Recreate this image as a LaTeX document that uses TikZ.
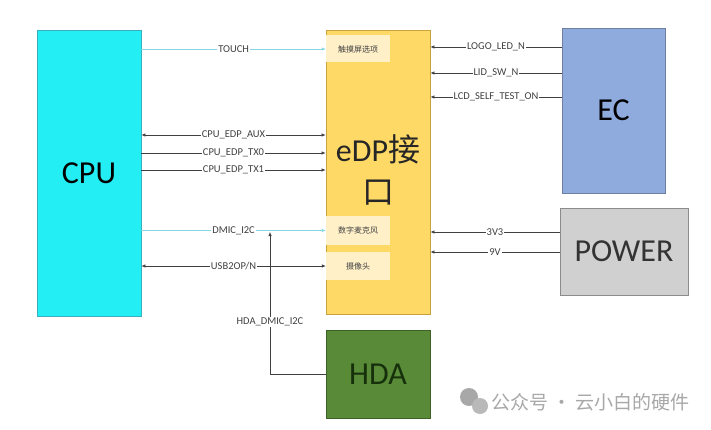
\documentclass[tikz,border=0pt]{standalone}
\usepackage{fontspec}
\setmainfont{Carlito}
\newfontfamily\cjk{Noto Sans CJK SC}
\usetikzlibrary{arrows.meta}
\definecolor{cpufill}{HTML}{22EEF3}
\definecolor{cpuline}{HTML}{3AAFC0}
\definecolor{edpfill}{HTML}{FFD966}
\definecolor{edpline}{HTML}{C8A23C}
\definecolor{subfill}{HTML}{FFF0C8}
\definecolor{ecfill}{HTML}{8FAADC}
\definecolor{ecline}{HTML}{6F7F9F}
\definecolor{pwfill}{HTML}{D0D0D0}
\definecolor{pwline}{HTML}{8C8C8C}
\definecolor{hdafill}{HTML}{588A38}
\definecolor{hdaline}{HTML}{3E6226}
\definecolor{hdatext}{HTML}{16300C}
\definecolor{sigline}{HTML}{404040}
\definecolor{cyanline}{HTML}{86D6E6}
\definecolor{labtext}{HTML}{404040}
\definecolor{wmgray}{HTML}{A8A8A8}
\tikzset{
  block/.style={draw, line width=0.8pt, minimum width=#1, inner sep=0pt},
  big/.style={font=\fontsize{32}{42}\selectfont},
  subbox/.style={fill=subfill, minimum width=64pt, inner sep=0pt, font=\cjk\fontsize{8}{9}\selectfont, text=labtext},
  sig/.style={draw=sigline, line width=0.6pt},
  cysig/.style={draw=cyanline, line width=0.8pt},
  tipr/.style={-{Latex[length=4pt,width=3.4pt]}},
  tipb/.style={{Latex[length=4pt,width=3.4pt]}-{Latex[length=4pt,width=3.4pt]}},
  tipl/.style={{Latex[length=4pt,width=3.4pt]}-},
  lab/.style={fill=white, inner sep=1pt, font=\fontsize{10.5}{12}\selectfont, text=labtext},
}
\begin{document}
\begin{tikzpicture}[x=1pt,y=-1pt]
\useasboundingbox (0,0) rectangle (711,430);
\fill[white] (0,0) rectangle (711,430);

% blocks
\node[block=104pt, minimum height=286pt, fill=cpufill, draw=cpuline, big] (cpu) at (89,173) {CPU};
\node[block=104pt, minimum height=284pt, fill=edpfill, draw=edpline] (edp) at (378,172) {};
\node[big, align=center, text=black!85] (edptxt) at (378,170) {eDP{\cjk 接}\\{\cjk 口}};
\node[block=103pt, minimum height=165pt, fill=ecfill, draw=ecline, big] (ec) at (613.5,110.5) {EC};
\node[block=128pt, minimum height=87pt, fill=pwfill, draw=pwline, big, text=black!80] (pw) at (624,251.5) {POWER};
\node[block=104pt, minimum height=88pt, fill=hdafill, draw=hdaline, big, text=hdatext] (hda) at (378,374) {HDA};

% sub boxes
\node[subbox, minimum height=27pt] (touch) at (358,49) {触摸屏选项};
\node[subbox, minimum height=29pt] (dmic) at (358,230.5) {数字麦克风};
\node[subbox, minimum height=28pt] (cam) at (358,266) {摄像头};

% CPU -> eDP signals
\draw[cysig, tipr] (cpu.east |- touch.west) -- node[lab]{TOUCH} (touch.west);
\coordinate (aux) at (edp.west |- 0,135);
\coordinate (tx0) at (edp.west |- 0,153);
\coordinate (tx1) at (edp.west |- 0,170);
\draw[sig, tipb] (cpu.east |- aux) -- node[lab]{CPU\_EDP\_AUX} (aux);
\draw[sig, tipr] (cpu.east |- tx0) -- node[lab]{CPU\_EDP\_TX0} (tx0);
\draw[sig, tipr] (cpu.east |- tx1) -- node[lab]{CPU\_EDP\_TX1} (tx1);
\draw[cysig, tipr] (cpu.east |- dmic.west) -- node[lab]{DMIC\_I2C} (dmic.west);
\draw[sig, tipb] (cpu.east |- cam.west) -- node[lab]{USB2OP/N} (cam.west);

% HDA
\coordinate (hdaup) at (270,232);
\draw[sig, tipl] (hdaup) -- (hdaup |- hda.west) -- (hda.west);
\node[lab] (hdalab) at (270,322) {HDA\_DMIC\_I2C};

% EC -> eDP
\coordinate (logo) at (ec.west |- 0,47);
\coordinate (lid) at (ec.west |- 0,73);
\coordinate (lcd) at (ec.west |- 0,97);
\draw[sig, tipl] (edp.east |- logo) -- node[lab]{LOGO\_LED\_N} (logo);
\draw[sig, tipl] (edp.east |- lid) -- node[lab]{LID\_SW\_N} (lid);
\draw[sig, tipl] (edp.east |- lcd) -- node[lab]{LCD\_SELF\_TEST\_ON} (lcd);

% POWER -> eDP
\coordinate (v33) at (pw.west |- 0,232);
\coordinate (v9) at (pw.west |- 0,252);
\draw[sig, tipl] (edp.east |- v33) -- node[lab]{3V3} (v33);
\draw[sig, tipl] (edp.east |- v9) -- node[lab]{9V} (v9);

% watermark
\fill[wmgray] (469,397) circle (9);
\fill[wmgray!80] (480,406) circle (8);
\node[anchor=west, inner sep=0pt, text=wmgray, font=\cjk\fontsize{19}{22}\selectfont] (wm) at (491,402) {公众号 · 云小白的硬件};
\end{tikzpicture}
\end{document}
